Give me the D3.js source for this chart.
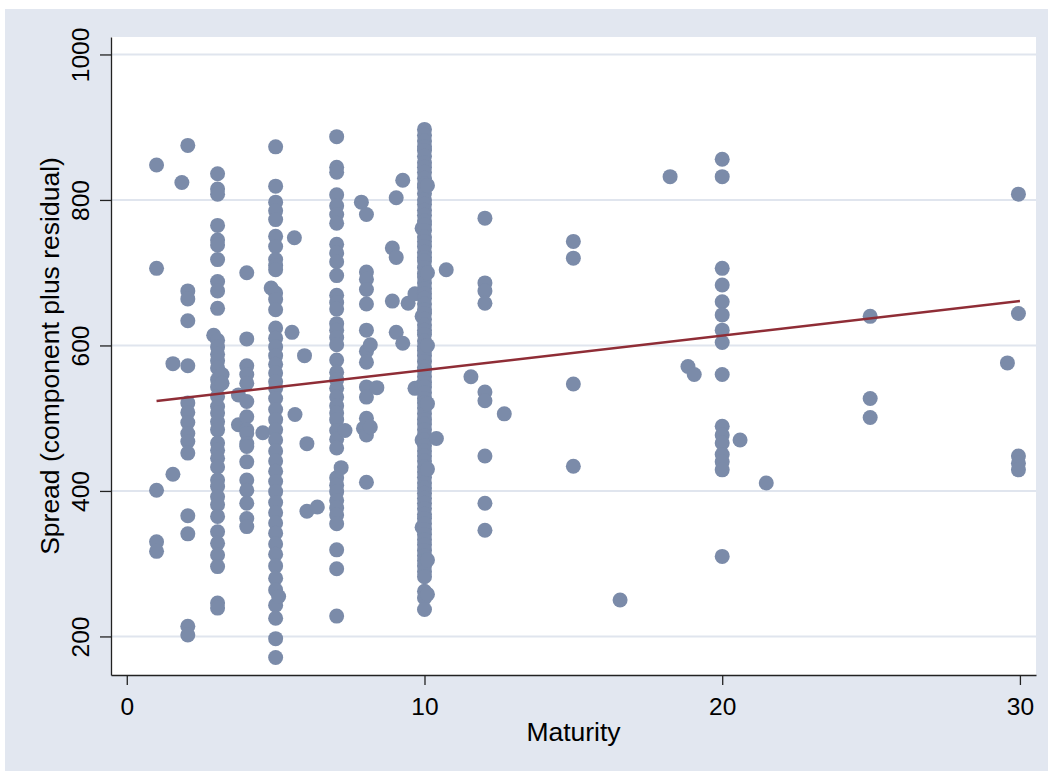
<!DOCTYPE html>
<html>
<head>
<meta charset="utf-8">
<script src="https://cdn.jsdelivr.net/npm/d3@7"></script>
<style>
  body { margin: 0; background: #fff; }
  svg text { font-family: 'Liberation Sans', Arial, sans-serif; fill: #000; }
</style>
</head>
<body>
<div class="chart"></div>
<script>
// tick values
const maturityTicks = [0, 10, 20, 30];
const spreadTicks = [200, 400, 600, 800, 1000];

// fitted line (component) end points
const fitMaturity = [1, 30];
const fitSpread = [523.5, 661];

// scatter: one maturity per column, spreads
const columnMaturity = [
  1, 1.55, 1.85, 2.05, 2.92, 3.05, 3.2, 3.75, 4.03, 4.57,
  4.85, 5.0, 5.1, 5.55, 5.63, 5.65, 5.97, 6.05, 6.4,
  7.05, 7.2, 7.33, 7.88, 7.95, 8.05, 8.18, 8.4,
  8.92, 9.05, 9.27, 9.45, 9.68,
  9.92, 10.0, 10.1, 10.4, 10.73, 11.56, 12.03, 12.68,
  15.0, 16.57, 18.25, 18.85, 19.06, 20.0, 20.6, 21.48,
  24.97, 29.58, 29.95
];
const columnSpread = [
  [848, 706, 401, 330, 317],
  [575, 423],
  [824],
  [875, 675, 664, 634, 572, 521, 508, 494, 479, 468, 452, 366, 341, 214, 202],
  [614],
  [836, 815, 808, 765, 745, 738, 718, 688, 675, 651, 607, 598, 588, 579, 569, 553, 543, 530, 516, 507,
   495, 484, 466, 456, 445, 433, 415, 406, 392, 381, 365, 344, 328, 312, 296, 246, 239],
  [560, 548],
  [532, 491],
  [700, 609, 572, 560, 548, 523, 502, 484, 479, 465, 461, 440, 415, 401, 383, 362, 351],
  [480],
  [679],
  [873, 819, 797, 785, 773, 750, 736, 718, 710, 704, 672, 663, 649, 624, 610, 598, 586, 574, 562, 550,
   541, 527, 512, 498, 484, 470, 455, 441, 427, 413, 399, 384, 370, 356, 342, 327, 313, 297, 280, 264,
   243, 225, 197, 171],
  [255],
  [618],
  [748],
  [505],
  [586],
  [465, 372],
  [378],
  [887, 845, 838, 807, 792, 780, 768, 739, 727, 715, 696, 669, 659, 650, 630, 621, 611, 601, 580, 563,
   553, 541, 529, 517, 507, 498, 483, 471, 459, 418, 408, 399, 387, 377, 367, 355, 319, 293, 228],
  [432],
  [483],
  [797],
  [486],
  [780, 701, 691, 677, 657, 621, 592, 577, 543, 529, 500, 477, 412],
  [601, 488],
  [542],
  [734, 661],
  [803, 721, 618],
  [827, 603],
  [658],
  [671, 541],
  [761, 640, 545, 470, 350],
  [897, 889, 881, 873, 868, 860, 851, 845, 838, 830, 822, 817, 809, 800, 794, 786, 779, 771, 766, 758,
   749, 743, 736, 728, 721, 716, 707, 699, 694, 686, 678, 671, 665, 657, 649, 644, 636, 628, 621, 615,
   606, 599, 593, 586, 578, 570, 565, 557, 549, 543, 535, 527, 521, 514, 506, 498, 492, 484, 476, 470,
   462, 455, 448, 441, 433, 426, 419, 411, 404, 397, 390, 383, 376, 368, 362, 355, 347, 340, 333, 326,
   318, 311, 304, 297, 289, 282, 262, 253, 237],
  [820, 700, 600, 520, 430, 305, 258],
  [472],
  [704],
  [557],
  [775, 686, 675, 658, 536, 524, 448, 383, 346],
  [506],
  [743, 720, 547, 434],
  [250],
  [832],
  [571],
  [560],
  [856, 832, 706, 683, 660, 642, 621, 604, 560, 489, 477, 466, 450, 440, 429, 310],
  [470],
  [411],
  [640, 527, 501],
  [576],
  [808, 644, 448, 438, 429]
];

const points = [];
columnMaturity.forEach((m, i) => {
  columnSpread[i].forEach(s => points.push({ maturity: m, spread: s }));
});

const W = 1053, H = 774;
const plot = { left: 111, right: 1036, top: 37, bottom: 675 };

const svg = d3.select('.chart')
  .append('svg')
    .attr('width', W)
    .attr('height', H);

// outer graph region
svg.append('rect')
  .attr('x', 5).attr('y', 9)
  .attr('width', 1043).attr('height', 762)
  .style('fill', '#e2e7f0');

// plot region
svg.append('rect')
  .attr('x', plot.left).attr('y', plot.top)
  .attr('width', plot.right - plot.left).attr('height', plot.bottom - plot.top)
  .style('fill', '#fff');

let xScale = d3.scaleLinear()
  .domain([-0.53, 30.54])
  .range([plot.left, plot.right]);

let yScale = d3.scaleLinear()
  .domain([147, 1024])
  .range([plot.bottom, plot.top]);

// gridlines
svg.append('g')
  .selectAll('line')
  .data(spreadTicks)
  .enter()
  .append('line')
    .attr('x1', plot.left)
    .attr('x2', plot.right)
    .attr('y1', d => yScale(d))
    .attr('y2', d => yScale(d))
    .style('stroke', '#e0e5ee')
    .style('stroke-width', 2);

// scatter
svg.append('g')
  .selectAll('circle')
  .data(points)
  .enter()
  .append('circle')
    .attr('cx', d => xScale(d.maturity))
    .attr('cy', d => yScale(d.spread))
    .attr('r', 7.5)
    .style('fill', '#7b8ba9');

// fitted line
let line = d3.line()
  .x(d => xScale(d[0]))
  .y(d => yScale(d[1]));

svg.append('path')
  .datum(fitMaturity.map((m, i) => [m, fitSpread[i]]))
  .attr('d', line)
  .style('fill', 'none')
  .style('stroke', '#8f2d36')
  .style('stroke-width', 2.5);

// y axis
let yAxis = d3.axisLeft(yScale)
  .tickValues(spreadTicks)
  .tickFormat(d3.format('d'))
  .tickSize(11)
  .tickSizeOuter(0);

let gy = svg.append('g')
  .attr('transform', `translate(${plot.left},0)`)
  .call(yAxis);

gy.selectAll('text')
  .attr('x', 0)
  .attr('dy', 0)
  .style('text-anchor', 'middle')
  .style('font-size', '24.5px')
  .attr('transform', 'translate(-22,0) rotate(-90)');

// x axis
let xAxis = d3.axisBottom(xScale)
  .tickValues(maturityTicks)
  .tickFormat(d3.format('d'))
  .tickSize(10)
  .tickSizeOuter(0);

let gx = svg.append('g')
  .attr('transform', `translate(0,${plot.bottom})`)
  .call(xAxis);

gx.selectAll('text')
  .attr('y', 40)
  .attr('dy', 0)
  .style('font-size', '24.5px');

[gx, gy].forEach(g => {
  g.select('.domain').style('stroke', '#222').style('stroke-width', 1.3);
  g.selectAll('.tick line').style('stroke', '#222').style('stroke-width', 1.3);
});

// titles
svg.append('text')
  .attr('x', (plot.left + plot.right) / 2)
  .attr('y', 741)
  .style('text-anchor', 'middle')
  .style('font-size', '26.5px')
  .text('Maturity');

svg.append('text')
  .attr('transform', `translate(59,${(plot.top + plot.bottom) / 2}) rotate(-90)`)
  .style('text-anchor', 'middle')
  .style('font-size', '26.5px')
  .text('Spread (component plus residual)');
</script>
</body>
</html>
